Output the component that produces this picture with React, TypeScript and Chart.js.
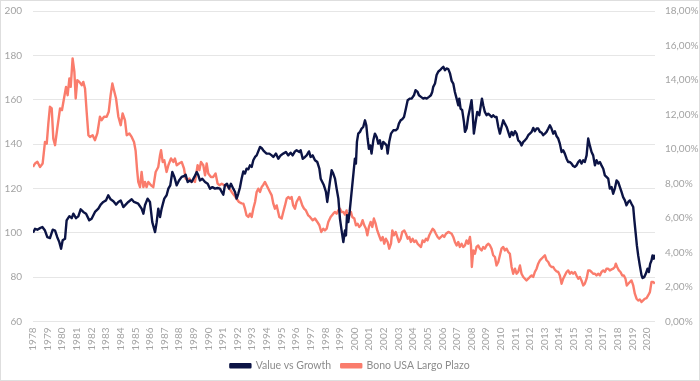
import React, { useEffect, useRef } from "react";
import { Chart, registerables } from "chart.js";

Chart.register(...registerables);

// Value vs Growth (left axis), time in decimal years
const valueYears = [
  1978.0, 1978.14, 1978.3, 1978.48, 1978.64, 1978.82, 1978.98, 1979.16, 1979.35, 1979.51, 1979.66, 1979.8, 1979.92,
  1980.03, 1980.19, 1980.3, 1980.49, 1980.65, 1980.76, 1980.94, 1981.1, 1981.26, 1981.44, 1981.63, 1981.85, 1982.01,
  1982.24, 1982.47, 1982.63, 1982.81, 1982.99, 1983.15, 1983.31, 1983.5, 1983.68, 1983.84, 1984.0, 1984.18, 1984.34,
  1984.52, 1984.75, 1984.91, 1985.2, 1985.43, 1985.55, 1985.66, 1985.84, 1986.0, 1986.16, 1986.35, 1986.46, 1986.57,
  1986.69, 1986.8, 1986.98, 1987.14, 1987.26, 1987.39, 1987.53, 1987.67, 1987.83, 1987.99, 1988.17, 1988.35, 1988.44,
  1988.58, 1988.74, 1988.85, 1989.04, 1989.2, 1989.31, 1989.42, 1989.58, 1989.77, 1989.95, 1990.11, 1990.27, 1990.45,
  1990.63, 1990.79, 1990.91, 1991.02, 1991.13, 1991.27, 1991.41, 1991.54, 1991.7, 1991.82, 1991.93, 1992.04, 1992.16,
  1992.27, 1992.39, 1992.5, 1992.61, 1992.73, 1992.84, 1992.96, 1993.07, 1993.19, 1993.3, 1993.41, 1993.53, 1993.64,
  1993.75, 1993.87, 1993.98, 1994.17, 1994.33, 1994.44, 1994.62, 1994.78, 1994.94, 1995.12, 1995.3, 1995.46, 1995.62,
  1995.76, 1995.92, 1996.03, 1996.22, 1996.31, 1996.45, 1996.61, 1996.72, 1996.88, 1996.99, 1997.13, 1997.29, 1997.45,
  1997.59, 1997.68, 1997.79, 1997.9, 1998.04, 1998.13, 1998.22, 1998.31, 1998.43, 1998.54, 1998.66, 1998.77, 1998.89,
  1999.0, 1999.11, 1999.23, 1999.34, 1999.41, 1999.48, 1999.57, 1999.66, 1999.75, 1999.84, 1999.93, 2000.02, 2000.09,
  2000.16, 2000.25, 2000.37, 2000.48, 2000.59, 2000.71, 2000.8, 2000.89, 2000.98, 2001.07, 2001.16, 2001.28, 2001.39,
  2001.51, 2001.62, 2001.73, 2001.85, 2001.96, 2002.08, 2002.19, 2002.26, 2002.37, 2002.49, 2002.65, 2002.81, 2002.94,
  2003.03, 2003.15, 2003.26, 2003.38, 2003.51, 2003.63, 2003.79, 2003.9, 2004.06, 2004.17, 2004.31, 2004.4, 2004.54,
  2004.7, 2004.81, 2004.93, 2005.09, 2005.22, 2005.31, 2005.38, 2005.5, 2005.61, 2005.72, 2005.84, 2005.95, 2006.07,
  2006.18, 2006.29, 2006.41, 2006.52, 2006.64, 2006.75, 2006.86, 2006.98, 2007.09, 2007.16, 2007.25, 2007.36, 2007.48,
  2007.55, 2007.66, 2007.77, 2007.89, 2008.0, 2008.07, 2008.16, 2008.28, 2008.39, 2008.53, 2008.62, 2008.71, 2008.8,
  2008.91, 2009.03, 2009.14, 2009.26, 2009.37, 2009.48, 2009.6, 2009.71, 2009.83, 2009.94, 2010.05, 2010.17, 2010.28,
  2010.4, 2010.51, 2010.62, 2010.74, 2010.85, 2010.97, 2011.08, 2011.19, 2011.31, 2011.42, 2011.54, 2011.65, 2011.76,
  2011.88, 2011.99, 2012.11, 2012.22, 2012.33, 2012.45, 2012.56, 2012.68, 2012.79, 2012.9, 2013.02, 2013.13, 2013.25,
  2013.36, 2013.47, 2013.59, 2013.7, 2013.82, 2013.93, 2014.04, 2014.16, 2014.27, 2014.38, 2014.5, 2014.61, 2014.73,
  2014.84, 2014.95, 2015.07, 2015.18, 2015.3, 2015.41, 2015.52, 2015.64, 2015.75, 2015.87, 2015.98, 2016.09, 2016.21,
  2016.32, 2016.44, 2016.55, 2016.66, 2016.78, 2016.89, 2017.01, 2017.12, 2017.23, 2017.35, 2017.46, 2017.58, 2017.69,
  2017.8, 2017.92, 2018.03, 2018.15, 2018.26, 2018.37, 2018.49, 2018.6, 2018.72, 2018.83, 2018.94, 2019.06, 2019.13,
  2019.22, 2019.31, 2019.4, 2019.51, 2019.63, 2019.7, 2019.81, 2019.92, 2020.04, 2020.13, 2020.22, 2020.31, 2020.38,
  2020.47, 2020.54,
];
const valueVsGrowth = [
  100.0, 101.8, 101.4, 102.1, 102.6, 101.0, 98.0, 97.6, 101.4, 101.0, 98.0, 95.8, 92.8,
  96.6, 97.3, 105.6, 107.5, 106.6, 108.6, 106.6, 107.4, 110.6, 109.4, 108.6, 105.6, 106.3,
  109.4, 110.9, 112.7, 113.9, 114.6, 116.9, 115.1, 114.2, 112.7, 113.9, 114.6, 111.6, 112.7,
  113.9, 115.1, 113.9, 113.1, 110.9, 108.6, 112.4, 115.4, 113.9, 104.8, 100.3, 104.8, 110.9,
  107.1, 110.9, 115.4, 116.9, 119.9, 121.4, 127.4, 125.2, 121.4, 123.6, 125.2, 125.6, 126.2,
  122.9, 123.6, 122.9, 125.2, 127.4, 125.9, 123.6, 124.4, 122.9, 122.1, 119.9, 120.6, 119.9,
  120.2, 119.9, 118.4, 117.2, 121.4, 122.1, 119.9, 122.1, 119.9, 118.4, 115.4, 117.6, 120.5,
  124.4, 127.7, 126.7, 128.9, 128.6, 130.4, 129.7, 132.7, 134.2, 134.9, 136.7, 138.7, 138.2,
  137.2, 136.4, 135.7, 135.7, 134.9, 134.2, 135.7, 133.4, 134.9, 135.7, 136.4, 134.9, 136.1,
  134.9, 136.7, 137.2, 136.4, 137.2, 133.4, 134.2, 134.9, 136.7, 134.2, 134.9, 132.7, 131.9,
  128.9, 124.4, 122.9, 121.4, 118.4, 113.9, 118.4, 122.9, 128.2, 126.7, 124.4, 119.9, 115.4,
  106.3, 101.1, 95.8, 101.0, 98.8, 107.9, 104.8, 109.4, 115.4, 121.4, 127.4, 133.4, 131.2,
  141.0, 144.7, 145.5, 147.0, 147.7, 150.7, 148.5, 142.5, 137.9, 139.4, 135.7, 141.7, 144.7,
  143.2, 140.2, 141.7, 137.9, 141.0, 140.2, 139.4, 135.7, 141.0, 144.7, 146.2, 146.2, 147.0,
  149.2, 150.7, 151.2, 152.2, 156.0, 159.8, 160.5, 160.5, 162.0, 164.3, 163.5, 162.0, 161.3,
  160.5, 160.8, 160.5, 161.3, 162.0, 163.5, 165.8, 167.3, 171.1, 172.6, 173.3, 174.1, 174.8,
  173.3, 174.1, 173.8, 172.0, 168.5, 167.3, 163.5, 160.5, 157.5, 160.5, 156.0, 155.3, 150.0,
  145.5, 147.0, 152.2, 156.0, 159.8, 154.5, 144.7, 150.0, 154.5, 153.0, 156.8, 160.5, 157.5,
  154.5, 153.0, 153.7, 153.0, 152.2, 153.0, 152.2, 152.2, 147.7, 144.7, 147.7, 150.7, 149.2,
  147.7, 145.5, 143.2, 145.5, 144.0, 145.8, 144.7, 141.7, 141.0, 139.4, 141.0, 141.7, 142.5,
  144.0, 144.7, 145.5, 147.3, 145.8, 147.0, 147.0, 145.5, 145.2, 144.0, 144.7, 145.5, 147.0,
  148.5, 147.0, 144.7, 145.8, 143.5, 142.5, 140.2, 136.4, 137.2, 135.7, 133.4, 131.9, 131.9,
  131.2, 130.1, 129.7, 130.4, 131.9, 132.7, 131.2, 132.7, 131.9, 134.9, 142.5, 139.4, 136.4,
  134.9, 130.4, 132.7, 131.2, 131.9, 130.4, 128.9, 125.9, 125.2, 124.4, 119.9, 120.6, 117.6,
  119.9, 123.6, 122.9, 120.6, 118.4, 116.1, 114.6, 112.4, 113.9, 114.6, 113.1, 111.6, 106.3,
  100.3, 94.3, 89.8, 85.3, 80.8, 79.6, 80.0, 81.5, 83.8, 82.3, 86.0, 87.5, 89.8,
  88.3, 90.1,
];

// Bono USA Largo Plazo (right axis, %), time in decimal years
const bondYears = [
  1978.0, 1978.14, 1978.3, 1978.48, 1978.66, 1978.82, 1978.94, 1979.05, 1979.16, 1979.28, 1979.39, 1979.51, 1979.66,
  1979.85, 1979.98, 1980.12, 1980.26, 1980.37, 1980.49, 1980.58, 1980.71, 1980.83, 1980.92, 1981.03, 1981.17, 1981.33,
  1981.44, 1981.56, 1981.67, 1981.79, 1981.9, 1982.08, 1982.24, 1982.4, 1982.58, 1982.7, 1982.86, 1983.04, 1983.18,
  1983.31, 1983.43, 1983.54, 1983.68, 1983.84, 1984.0, 1984.13, 1984.29, 1984.41, 1984.59, 1984.75, 1984.91, 1985.02,
  1985.12, 1985.2, 1985.32, 1985.43, 1985.55, 1985.66, 1985.77, 1985.89, 1986.07, 1986.23, 1986.39, 1986.57, 1986.69,
  1986.76, 1986.87, 1986.98, 1987.14, 1987.26, 1987.44, 1987.6, 1987.71, 1987.83, 1987.99, 1988.17, 1988.33, 1988.44,
  1988.58, 1988.69, 1988.85, 1988.97, 1989.08, 1989.26, 1989.38, 1989.49, 1989.65, 1989.77, 1989.88, 1989.99, 1990.17,
  1990.33, 1990.49, 1990.63, 1990.75, 1990.91, 1991.09, 1991.25, 1991.41, 1991.59, 1991.77, 1991.93, 1992.09, 1992.27,
  1992.39, 1992.5, 1992.61, 1992.73, 1992.84, 1992.96, 1993.07, 1993.19, 1993.3, 1993.41, 1993.53, 1993.64, 1993.76,
  1993.87, 1993.98, 1994.1, 1994.21, 1994.33, 1994.44, 1994.55, 1994.67, 1994.85, 1995.01, 1995.12, 1995.24, 1995.35,
  1995.46, 1995.58, 1995.69, 1995.8, 1995.92, 1996.03, 1996.22, 1996.31, 1996.42, 1996.54, 1996.67, 1996.83, 1996.95,
  1997.13, 1997.29, 1997.45, 1997.59, 1997.72, 1997.86, 1997.97, 1998.09, 1998.2, 1998.36, 1998.54, 1998.66, 1998.77,
  1998.88, 1999.0, 1999.11, 1999.23, 1999.34, 1999.45, 1999.52, 1999.61, 1999.75, 1999.84, 1999.98, 2000.09, 2000.21,
  2000.32, 2000.43, 2000.55, 2000.66, 2000.78, 2000.87, 2000.98, 2001.1, 2001.21, 2001.32, 2001.44, 2001.55, 2001.67,
  2001.8, 2001.92, 2002.03, 2002.14, 2002.26, 2002.37, 2002.49, 2002.58, 2002.69, 2002.81, 2002.92, 2003.03, 2003.15,
  2003.26, 2003.4, 2003.51, 2003.63, 2003.74, 2003.85, 2003.97, 2004.08, 2004.2, 2004.31, 2004.42, 2004.54, 2004.65,
  2004.77, 2004.88, 2004.99, 2005.11, 2005.22, 2005.34, 2005.45, 2005.56, 2005.68, 2005.79, 2005.91, 2006.02, 2006.13,
  2006.25, 2006.41, 2006.52, 2006.64, 2006.75, 2006.86, 2006.98, 2007.09, 2007.2, 2007.32, 2007.43, 2007.55, 2007.66,
  2007.77, 2007.89, 2007.96, 2008.02, 2008.12, 2008.23, 2008.34, 2008.46, 2008.57, 2008.69, 2008.8, 2008.91, 2009.03,
  2009.14, 2009.26, 2009.37, 2009.48, 2009.6, 2009.71, 2009.83, 2009.94, 2010.05, 2010.17, 2010.28, 2010.4, 2010.51,
  2010.62, 2010.74, 2010.85, 2010.97, 2011.08, 2011.19, 2011.31, 2011.42, 2011.54, 2011.65, 2011.76, 2011.88, 2011.99,
  2012.11, 2012.22, 2012.33, 2012.45, 2012.56, 2012.68, 2012.79, 2012.9, 2013.02, 2013.13, 2013.25, 2013.36, 2013.47,
  2013.59, 2013.7, 2013.82, 2013.93, 2014.04, 2014.16, 2014.27, 2014.38, 2014.5, 2014.61, 2014.73, 2014.84, 2014.95,
  2015.07, 2015.18, 2015.3, 2015.41, 2015.52, 2015.64, 2015.75, 2015.87, 2015.98, 2016.09, 2016.21, 2016.32, 2016.44,
  2016.55, 2016.66, 2016.78, 2016.89, 2017.01, 2017.12, 2017.23, 2017.35, 2017.46, 2017.58, 2017.69, 2017.8, 2017.87,
  2017.96, 2018.08, 2018.19, 2018.31, 2018.42, 2018.53, 2018.62, 2018.72, 2018.83, 2018.94, 2019.06, 2019.17, 2019.29,
  2019.4, 2019.51, 2019.63, 2019.74, 2019.86, 2019.97, 2020.08, 2020.2, 2020.31, 2020.43, 2020.54,
];
const bondYield = [
  8.96, 9.16, 9.26, 8.96, 9.16, 10.41, 10.31, 11.48, 12.45, 12.35, 10.6, 10.22, 11.19,
  12.35, 12.25, 12.93, 13.6, 13.12, 14.09, 13.6, 15.25, 14.48, 12.93, 13.99, 13.89, 13.7,
  13.89, 13.5, 12.16, 10.8, 10.7, 10.8, 10.51, 10.9, 11.87, 11.67, 11.87, 11.87, 12.16,
  13.12, 13.8, 13.41, 12.93, 11.87, 11.38, 12.06, 11.67, 10.8, 10.9, 10.7, 10.41, 9.9,
  8.8, 8.09, 7.79, 8.67, 7.79, 8.09, 7.79, 8.09, 7.9, 7.79, 8.67, 8.96, 9.64,
  9.93, 9.25, 9.35, 8.67, 9.06, 9.45, 9.25, 9.45, 9.06, 9.16, 9.25, 8.87, 8.29,
  8.19, 8.29, 8.09, 8.19, 8.09, 9.06, 8.77, 9.25, 9.06, 8.48, 9.16, 8.58, 8.38,
  8.38, 8.58, 7.99, 7.9, 7.99, 7.9, 7.9, 7.74, 7.51, 7.31, 7.12, 6.93, 6.85,
  6.83, 6.54, 6.15, 6.06, 6.25, 6.06, 6.54, 6.93, 7.51, 7.7, 7.51, 7.79, 7.93,
  8.09, 7.9, 7.7, 7.51, 7.31, 6.83, 6.54, 6.73, 6.06, 5.97, 6.35, 6.73, 7.12,
  7.22, 7.12, 7.22, 6.73, 6.54, 6.93, 7.22, 7.02, 6.73, 6.54, 6.44, 6.15, 6.06,
  5.87, 5.97, 5.77, 5.58, 5.19, 5.38, 5.28, 5.38, 5.77, 6.06, 6.25, 6.35, 6.25,
  6.44, 6.54, 6.35, 6.35, 6.2, 6.44, 5.97, 6.15, 6.35, 6.06, 5.97, 5.58, 5.67,
  5.48, 5.58, 5.87, 5.58, 5.38, 5.0, 5.48, 5.77, 5.48, 5.97, 5.67, 5.28, 5.0,
  4.7, 4.9, 4.51, 4.8, 4.61, 4.22, 4.51, 5.28, 5.0, 5.19, 4.9, 4.61, 4.8,
  5.19, 5.28, 5.09, 4.8, 4.9, 4.61, 4.8, 4.61, 4.7, 4.51, 4.41, 4.32, 4.7,
  4.61, 4.8, 4.7, 5.0, 5.19, 5.38, 5.28, 5.09, 4.9, 4.8, 4.9, 5.0, 4.9,
  5.09, 5.19, 5.15, 5.09, 4.9, 4.61, 4.41, 4.61, 4.32, 4.51, 4.32, 4.41, 4.7,
  4.51, 4.9, 4.41, 3.16, 4.12, 3.93, 4.32, 4.41, 4.22, 4.12, 4.32, 4.22, 4.41,
  4.51, 4.41, 4.22, 3.84, 3.74, 3.25, 3.45, 3.84, 4.22, 4.32, 4.12, 4.22, 4.03,
  3.93, 3.16, 2.77, 3.06, 2.77, 2.87, 3.25, 2.77, 2.58, 2.48, 2.38, 2.48, 2.58,
  2.67, 2.58, 2.87, 3.06, 3.35, 3.55, 3.64, 3.74, 3.84, 3.55, 3.45, 3.25, 3.16,
  3.16, 3.0, 2.9, 2.87, 2.67, 2.19, 2.48, 2.67, 2.87, 2.96, 2.77, 2.87, 2.77,
  2.87, 2.67, 2.48, 2.58, 2.38, 2.09, 2.19, 2.48, 2.96, 2.96, 2.87, 2.77, 2.77,
  2.67, 2.77, 2.67, 2.87, 2.96, 2.87, 3.06, 3.06, 2.96, 3.02, 3.06, 3.16, 3.35,
  3.16, 2.96, 2.87, 2.67, 2.67, 2.48, 2.09, 2.19, 2.29, 2.38, 2.09, 1.61, 1.32,
  1.22, 1.28, 1.13, 1.22, 1.32, 1.36, 1.51, 1.7, 2.29, 2.29, 2.19,
];

const seriesNames = ["Value vs Growth", "Bono USA Largo Plazo"];
const xRange = [1978, 2020.55];
const leftRange = [60, 200, 20];
const rightRange = [0, 18, 2];

const NAVY = "#0c1445";
const SALMON = "#fa7c6c";
const TICK_COLOR = "#a3a3a3";
const FONT = "Lato, 'Open Sans', sans-serif";

export default function App() {
  const ref = useRef<HTMLCanvasElement>(null);

  useEffect(() => {
    document.body.style.margin = "0";
    const chart = new Chart(ref.current as HTMLCanvasElement, {
      type: "line",
      data: {
        datasets: [
          {
            label: seriesNames[0],
            data: valueYears.map((x, i) => ({ x, y: valueVsGrowth[i] })),
            borderColor: NAVY,
            backgroundColor: NAVY,
            borderWidth: 2.4,
            pointRadius: 0,
            yAxisID: "y",
            borderJoinStyle: "round",
          },
          {
            label: seriesNames[1],
            data: bondYears.map((x, i) => ({ x, y: bondYield[i] })),
            borderColor: SALMON,
            backgroundColor: SALMON,
            borderWidth: 2.4,
            pointRadius: 0,
            yAxisID: "y1",
            borderJoinStyle: "round",
          },
        ],
      },
      options: {
        responsive: false,
        animation: false,
        layout: { padding: { top: 11, left: 0, right: 0, bottom: 0 } },
        plugins: {
          legend: {
            position: "bottom",
            labels: {
              boxWidth: 20,
              boxHeight: 3,
              color: "#8c8c8c",
              font: { family: FONT, size: 10.5 },
              padding: 10,
            },
          },
          tooltip: { enabled: false },
        },
        scales: {
          x: {
            type: "linear",
            min: xRange[0],
            max: xRange[1],
            grid: { display: false, drawTicks: false },
            border: { display: false },
            ticks: {
              stepSize: 1,
              includeBounds: false,
              autoSkip: false,
              minRotation: 90,
              maxRotation: 90,
              padding: 6,
              color: TICK_COLOR,
              font: { family: FONT, size: 10 },
              callback: (v: any) => String(v),
            },
            afterFit: (s: any) => {
              s.height = 29;
            },
          },
          y: {
            position: "left",
            min: leftRange[0],
            max: leftRange[1],
            grid: { color: "#e6e6e6", drawTicks: false, lineWidth: 1 },
            border: { display: false },
            ticks: {
              stepSize: leftRange[2],
              padding: 11,
              color: TICK_COLOR,
              font: { family: FONT, size: 10 },
            },
            afterFit: (s: any) => {
              s.width = 33;
              s.paddingTop = 0;
              s.paddingBottom = 0;
            },
          },
          y1: {
            position: "right",
            min: rightRange[0],
            max: rightRange[1],
            grid: { display: false, drawTicks: false },
            border: { display: false },
            ticks: {
              stepSize: rightRange[2],
              padding: 10,
              color: TICK_COLOR,
              font: { family: FONT, size: 10 },
              callback: (v: any) => Number(v).toFixed(2).replace(".", ",") + "%",
            },
            afterFit: (s: any) => {
              s.width = 45;
              s.paddingTop = 0;
              s.paddingBottom = 0;
            },
          },
        },
      },
    });
    return () => chart.destroy();
  }, []);

  return (
    <div style={{ position: "relative", width: 700, height: 381 }}>
      <canvas ref={ref} width={700} height={381} style={{ display: "block" }} />
      <div
        style={{
          position: "absolute",
          left: 0,
          top: 0,
          width: 700,
          height: 381,
          boxSizing: "border-box",
          border: "1px solid #dedede",
          pointerEvents: "none",
        }}
      />
    </div>
  );
}
